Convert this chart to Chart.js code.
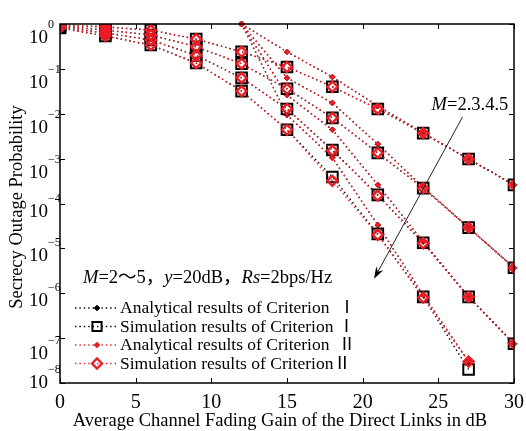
<!DOCTYPE html>
<html>
<head>
<meta charset="utf-8">
<script src="https://cdn.jsdelivr.net/npm/chart.js@4.4.1/dist/chart.umd.min.js"></script>
<style>
  html, body { margin: 0; padding: 0; background: #fff; }
  #wrap { width: 526px; height: 431px; }
</style>
</head>
<body>
<div id="wrap"><canvas id="c"></canvas></div>
<script>
// x positions (dB)
const simX = [0, 3, 6, 9, 12, 15, 18, 21, 24, 27, 30];
const anaX = [12, 15, 18, 21, 24, 27, 30];

// simulation, criterion I (M = 2..5)
const simI_M2 = [0.95, 0.86, 0.73, 0.46, 0.24, 0.11, 0.040, 0.0128, 3.7e-3, 9.8e-4, 2.6e-4];
const simI_M3 = [0.90, 0.73, 0.57, 0.31, 0.13, 0.036, 8.1e-3, 1.34e-3, 2.2e-4, 2.9e-5, 3.7e-6];
const simI_M4 = [0.86, 0.63, 0.44, 0.20, 0.063, 0.0128, 1.56e-3, 1.56e-4, 1.33e-5, 8.3e-7, 7.5e-8];
const simI_M5 = [0.82, 0.54, 0.34, 0.135, 0.032, 4.4e-3, 3.9e-4, 2.1e-5, 8.3e-7, 2.0e-8];

// simulation, criterion II
const simII_M2 = [0.95, 0.86, 0.73, 0.46, 0.24, 0.11, 0.040, 0.0128, 3.7e-3, 9.8e-4, 2.6e-4];
const simII_M3 = [0.90, 0.73, 0.57, 0.31, 0.13, 0.036, 8.1e-3, 1.34e-3, 2.2e-4, 2.9e-5, 3.7e-6];
const simII_M4 = [0.86, 0.63, 0.44, 0.20, 0.063, 0.0128, 1.5e-3, 1.5e-4, 1.3e-5, 8.3e-7, 7.5e-8];
const simII_M5 = [0.82, 0.54, 0.34, 0.135, 0.032, 4.4e-3, 3.2e-4, 2.0e-5, 8.0e-7, 3.0e-8];

// analytical (criterion I and II overlap)
const ana_M2 = [1, 0.24, 0.066, 0.015, 3.7e-3, 9.8e-4, 2.6e-4];
const ana_M3 = [1, 0.063, 0.0174, 2.1e-3, 2.3e-4, 2.9e-5, 3.7e-6];
const ana_M4 = [1, 0.026, 4.4e-3, 2.6e-4, 1.4e-5, 8.3e-7, 7.5e-8];
const ana_M5 = [1, 9.4e-3, 1.04e-3, 3.3e-5, 9.2e-7, 3.0e-8];

const xTicks = [0, 5, 10, 15, 20, 25, 30];
const yExps = [0, -1, -2, -3, -4, -5, -6, -7, -8];

const legendLabels = [
  'Analytical results of Criterion  \u2160',
  'Simulation results of Criterion \u2160',
  'Analytical results of Criterion  \u2161',
  'Simulation results of Criterion\u2161'
];

const RED = '#ec1c24';
const BLACK = '#000';
const serif = '"Liberation Serif", "Times New Roman", "Noto Sans CJK SC", serif';

function pts(xs, ys) {
  return ys.map((y, i) => ({ x: xs[i], y: y }));
}

const styles = {
  anaI:  { color: BLACK, pointStyle: 'rectRot', radius: 2.8, fill: true,  bw: 1, order: 3 },
  simI:  { color: BLACK, pointStyle: 'rect',    radius: 7.5, fill: false, bw: 2, order: 1 },
  anaII: { color: RED,   pointStyle: 'rectRot', radius: 2.8, fill: true,  bw: 1, order: 2 },
  simII: { color: RED,   pointStyle: 'rectRot', radius: 5,   fill: false, bw: 2.4, order: 0 }
};

function ds(kind, xs, ys) {
  const s = styles[kind];
  return {
    data: pts(xs, ys),
    borderColor: s.color,
    borderWidth: 1.4,
    borderDash: [1.4, 3],
    pointStyle: s.pointStyle,
    pointRadius: s.radius,
    pointBorderWidth: s.bw,
    pointBorderColor: s.color,
    pointBackgroundColor: s.fill ? s.color : 'rgba(0,0,0,0)',
    showLine: true,
    fill: false,
    tension: 0,
    order: s.order,
    clip: kind.startsWith('ana') ? false : 0
  };
}

const datasets = [
  ds('anaI', anaX, ana_M2), ds('anaI', anaX, ana_M3), ds('anaI', anaX, ana_M4), ds('anaI', anaX, ana_M5),
  ds('simI', simX, simI_M2), ds('simI', simX, simI_M3), ds('simI', simX, simI_M4), ds('simI', simX, simI_M5),
  ds('anaII', anaX, ana_M2), ds('anaII', anaX, ana_M3), ds('anaII', anaX, ana_M4), ds('anaII', anaX, ana_M5),
  ds('simII', simX, simII_M2), ds('simII', simX, simII_M3), ds('simII', simX, simII_M4), ds('simII', simX, simII_M5)
];

// annotation arrow, in data coordinates
const arrowFrom = [26.6, 8.5e-3];
const arrowTo = [20.75, 2.1e-6];

// vertical shift of each "10^n" label from its tick (as in the figure)
const yLabelShift = [12, 12, 12, 12, 6, 6, 6, 14, -2];

function drawParts(ctx, parts, x, y, size) {
  parts.forEach(([txt, italic]) => {
    ctx.font = (italic ? 'italic ' : '') + size + 'px ' + serif;
    ctx.fillText(txt, x, y);
    x += ctx.measureText(txt).width;
  });
}

const decorations = {
  id: 'decorations',
  afterDatasetsDraw(chart) {
    const ctx = chart.ctx;
    const a = chart.chartArea;
    const xs = chart.scales.x, ys = chart.scales.y;
    ctx.save();

    // frame
    ctx.strokeStyle = '#000';
    ctx.lineWidth = 1.5;
    ctx.strokeRect(a.left, a.top, a.right - a.left, a.bottom - a.top);

    // inward ticks on all sides
    ctx.lineWidth = 1;
    ctx.beginPath();
    xTicks.forEach(v => {
      const px = Math.round(xs.getPixelForValue(v)) + 0.5;
      ctx.moveTo(px, a.bottom); ctx.lineTo(px, a.bottom - 5);
      ctx.moveTo(px, a.top); ctx.lineTo(px, a.top + 5);
    });
    yExps.forEach(e => {
      const py = Math.round(ys.getPixelForValue(Math.pow(10, e))) + 0.5;
      ctx.moveTo(a.left, py); ctx.lineTo(a.left + 5, py);
      ctx.moveTo(a.right, py); ctx.lineTo(a.right - 5, py);
    });
    ctx.stroke();

    ctx.fillStyle = '#000';
    // x tick labels
    ctx.font = '20px ' + serif;
    ctx.textAlign = 'center';
    ctx.textBaseline = 'alphabetic';
    xTicks.forEach(v => ctx.fillText(String(v), xs.getPixelForValue(v), 408));

    // y tick labels 10^n
    yExps.forEach((e, i) => {
      const py = ys.getPixelForValue(Math.pow(10, e));
      const c = py + yLabelShift[i];
      ctx.textAlign = 'right';
      ctx.font = '19px ' + serif;
      ctx.fillText('10', a.left - 12, c + 7);
      ctx.textAlign = 'left';
      ctx.font = '12px ' + serif;
      ctx.fillText(e === 0 ? '0' : '\u2212' + (-e), a.left - 12, c - 8);
    });

    // axis titles
    ctx.textAlign = 'center';
    ctx.font = '18.5px ' + serif;
    ctx.fillText('Average Channel Fading Gain of the Direct Links in dB', 280, 426);
    ctx.save();
    ctx.translate(17, 207);
    ctx.rotate(-Math.PI / 2);
    ctx.textBaseline = 'middle';
    ctx.fillText('Secrecy Outage Probability', 0, 0);
    ctx.restore();

    // parameter text
    ctx.textAlign = 'left';
    ctx.textBaseline = 'alphabetic';
    drawParts(ctx, [['M', true], ['=2\uFF5E5\uFF0C', false], ['y', true], ['=20dB\uFF0C', false],
                    ['Rs', true], ['=2bps/Hz', false]], a.left + 23, 283, 18.5);

    // arrow with label
    const x0 = xs.getPixelForValue(arrowFrom[0]), y0 = ys.getPixelForValue(arrowFrom[1]);
    const x1 = xs.getPixelForValue(arrowTo[0]), y1 = ys.getPixelForValue(arrowTo[1]);
    const ang = Math.atan2(y1 - y0, x1 - x0);
    ctx.strokeStyle = '#222';
    ctx.lineWidth = 1;
    ctx.beginPath();
    ctx.moveTo(x0, y0);
    ctx.lineTo(x1 - 8 * Math.cos(ang), y1 - 8 * Math.sin(ang));
    ctx.stroke();
    ctx.beginPath();
    ctx.moveTo(x1, y1);
    ctx.lineTo(x1 - 12 * Math.cos(ang) + 4 * Math.sin(ang), y1 - 12 * Math.sin(ang) - 4 * Math.cos(ang));
    ctx.lineTo(x1 - 8 * Math.cos(ang), y1 - 8 * Math.sin(ang));
    ctx.lineTo(x1 - 12 * Math.cos(ang) - 4 * Math.sin(ang), y1 - 12 * Math.sin(ang) + 4 * Math.cos(ang));
    ctx.closePath();
    ctx.fillStyle = '#000';
    ctx.fill();
    drawParts(ctx, [['M', true], ['=2.3.4.5', false]], x0 - 31, y0 - 7, 18.5);

    // legend box
    ctx.fillStyle = '#fff';
    ctx.fillRect(a.left + 13, 290, 262, 84);
    const kinds = ['anaI', 'simI', 'anaII', 'simII'];
    kinds.forEach((k, i) => {
      const s = styles[k];
      const ly = 308 + i * 18.5;
      ctx.strokeStyle = s.color;
      ctx.lineWidth = 1.4;
      ctx.setLineDash([1.4, 3]);
      ctx.beginPath();
      ctx.moveTo(a.left + 15, ly); ctx.lineTo(a.left + 58, ly);
      ctx.stroke();
      ctx.setLineDash([]);
      ctx.fillStyle = s.fill ? s.color : 'rgba(0,0,0,0)';
      ctx.lineWidth = s.bw;
      Chart.helpers.drawPoint(ctx, { pointStyle: s.pointStyle, radius: k === 'simI' ? 6.5 : s.radius, rotation: 0, borderWidth: s.bw }, a.left + 37, ly);
      ctx.fillStyle = '#000';
      ctx.font = '17.5px ' + serif;
      ctx.textAlign = 'left';
      ctx.fillText(legendLabels[i], a.left + 60, ly + 5);
    });

    ctx.restore();
  }
};

new Chart(document.getElementById('c'), {
  type: 'line',
  data: { datasets: datasets },
  options: {
    responsive: true,
    maintainAspectRatio: false,
    animation: false,
    devicePixelRatio: 1,
    layout: { padding: { left: 60, right: 12, top: 24, bottom: 48 } },
    plugins: { legend: { display: false }, tooltip: { enabled: false } },
    scales: {
      x: { type: 'linear', min: 0, max: 30, display: false },
      y: { type: 'logarithmic', min: 1e-8, max: 1, display: false }
    }
  },
  plugins: [decorations]
});
</script>
</body>
</html>
